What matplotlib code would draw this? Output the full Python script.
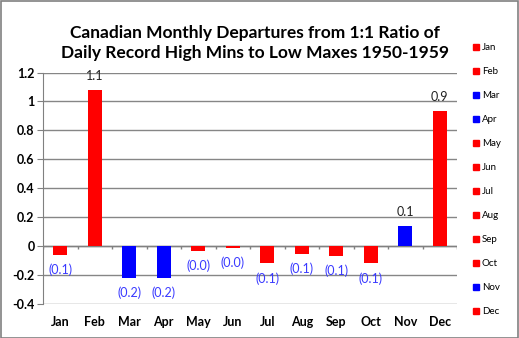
import matplotlib.pyplot as plt
from matplotlib.patches import Rectangle

months = ['Jan', 'Feb', 'Mar', 'Apr', 'May', 'Jun', 'Jul', 'Aug', 'Sep', 'Oct', 'Nov', 'Dec']
departures = [-0.062, 1.079, -0.218, -0.218, -0.034, -0.01, -0.12, -0.052, -0.066, -0.12, 0.141, 0.933]
bar_colors = ['red', 'red', 'blue', 'blue', 'red', 'red', 'red', 'red', 'red', 'red', 'blue', 'red']
yticks = [-0.4, -0.2, 0, 0.2, 0.4, 0.6, 0.8, 1, 1.2]
ytick_labels = ['-0.4', '-0.2', '0', '0.2', '0.4', '0.6', '0.8', '1', '1.2']

plt.rcParams['font.family'] = ['Lato', 'DejaVu Sans']

fig = plt.figure(figsize=(5.19, 3.38), dpi=100)
W, H = 519, 338
ax = fig.add_axes([43 / W, 1 - 304 / H, (457 - 43) / W, (304 - 72.5) / H])

x = range(len(months))
ax.bar(x, departures, width=0.4, color=bar_colors, zorder=3)

ax.set_xlim(-0.5, 11.5)
ax.set_ylim(-0.4, 1.2)
ax.set_yticks(yticks)
ax.set_yticklabels(ytick_labels, fontsize=9, fontweight='bold')
ax.set_xticks(list(x))
ax.set_xticklabels(months, fontsize=9, fontweight='bold')
ax.tick_params(axis='x', length=0, pad=9)
ax.tick_params(axis='y', length=4, color='#808080', direction='out', pad=2)
ax.yaxis.grid(True, color='#868686', linewidth=1)
ax.set_axisbelow(True)
for s in ['top', 'right', 'bottom']:
    ax.spines[s].set_visible(False)
ax.spines['left'].set_color('#808080')

# zero line with category boundary ticks
ax.axhline(0, color='#808080', linewidth=1, zorder=2)
for b in range(13):
    ax.vlines(b - 0.5, -0.02, 0, color='#808080', linewidth=1, zorder=2)

# data labels
for i, v in enumerate(departures):
    if v >= 0:
        ax.text(i, v + 0.055, f'{v:.1f}', ha='center', va='bottom', fontsize=9, color='#222222')
    else:
        ax.text(i, v - 0.06, f'({abs(v):.1f})', ha='center', va='top', fontsize=9, color='#3a3aff')

fig.text(255 / W, 1 - 43 / H,
         'Canadian Monthly Departures from 1:1 Ratio of\nDaily Record High Mins to Low Maxes 1950-1959',
         ha='center', va='center', fontsize=12.5, fontweight='bold', linespacing=1.25)

# legend on the right
for i, (m, c) in enumerate(zip(months, bar_colors)):
    yy = 1 - (47 + i * 24) / H
    fig.patches.append(Rectangle((473 / W, yy - 3 / H), 6 / W, 6 / H, color=c,
                                 transform=fig.transFigure, figure=fig))
    fig.text(482 / W, yy, m, ha='left', va='center', fontsize=7)

fig.patches.append(Rectangle((0.5 / W, 0.5 / H), 1 - 1.5 / W, 1 - 1.5 / H, fill=False,
                             edgecolor='#808080', linewidth=1.2,
                             transform=fig.transFigure, figure=fig))

fig.savefig('out.png', dpi=100)
